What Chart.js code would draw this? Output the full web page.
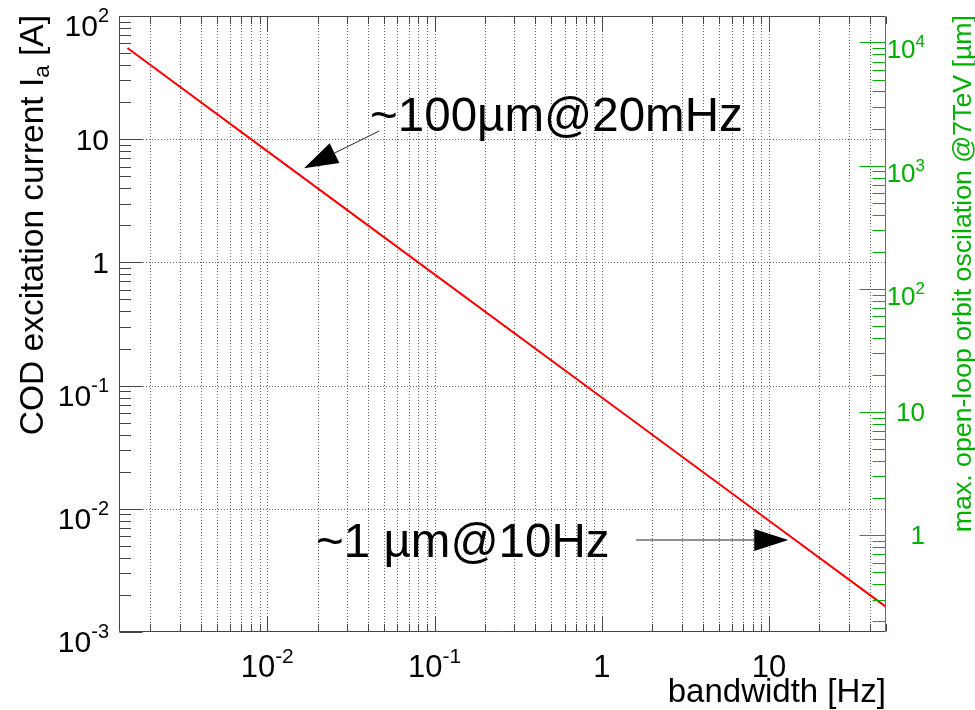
<!DOCTYPE html>
<html>
<head>
<meta charset="utf-8">
<script src="https://cdn.jsdelivr.net/npm/chart.js@4.4.0/dist/chart.umd.min.js"></script>
<style>
html,body{margin:0;padding:0;background:#fff;}
#wrap{width:975px;height:710px;}
</style>
</head>
<body>
<div id="wrap"><canvas id="myChart" width="975" height="710"></canvas></div>
<script>
// COD excitation current vs bandwidth (log-log)
const bandwidth = [0.00146, 0.01, 0.1, 1, 10, 50];
const current = [55, 8.0, 0.80, 0.080, 0.0080, 0.0016];

const xTicks = [0.01, 0.1, 1, 10];
const xTickLabels = ['10^-2', '10^-1', '1', '10'];
const yTicks = [100, 10, 1, 0.1, 0.01, 0.001];
const yTickLabels = ['10^2', '10', '1', '10^-1', '10^-2', '10^-3'];
const y2Ticks = [1, 10, 100, 1000, 10000];
const y2TickLabels = ['1', '10', '10^2', '10^3', '10^4'];

const noteTexts = ['~100µm@20mHz', '~1 µm@10Hz'];
const noteAt = [[0.0412, 11.68], [0.0196, 0.0041]];
const arrowFrom = [[0.0468, 11.68], [1.606, 0.00558]];
const arrowTo = [[0.0166, 5.82], [13.02, 0.00558]];

const FONT = '"Liberation Sans", Arial, Helvetica, sans-serif';
const GREEN = '#00b000';

function line(c, x1, y1, x2, y2) {
  c.beginPath(); c.moveTo(x1, y1); c.lineTo(x2, y2); c.stroke();
}

function logSteps(min, max) {
  const out = [];
  for (let e = Math.floor(Math.log10(min)); e <= Math.ceil(Math.log10(max)); e++) {
    for (let m = 1; m <= 9; m++) {
      const v = m * Math.pow(10, e);
      if (v >= min * 0.999 && v <= max * 1.001) out.push({v: v, major: m === 1});
    }
  }
  return out;
}

// label like '10^-2' -> base + superscript
function drawLabel(c, str, x, y, align, size, expSize, rise) {
  const parts = str.split('^');
  c.font = size + 'px ' + FONT;
  const bw = c.measureText(parts[0]).width;
  let ew = 0;
  if (parts[1]) { c.font = expSize + 'px ' + FONT; ew = c.measureText(parts[1]).width; }
  const total = bw + ew;
  const x0 = align === 'right' ? x - total : align === 'center' ? x - total / 2 : x;
  c.textAlign = 'left';
  c.textBaseline = 'alphabetic';
  c.font = size + 'px ' + FONT;
  c.fillText(parts[0], x0, y);
  if (parts[1]) { c.font = expSize + 'px ' + FONT; c.fillText(parts[1], x0 + bw, y - rise); }
}

function arrow(c, x1, y1, x2, y2) {
  const ang = Math.atan2(y2 - y1, x2 - x1);
  const len = 34, half = 11;
  const bx = x2 - len * Math.cos(ang), by = y2 - len * Math.sin(ang);
  c.strokeStyle = '#222'; c.lineWidth = 1;
  line(c, x1, y1, bx, by);
  c.fillStyle = '#000';
  c.beginPath();
  c.moveTo(x2, y2);
  c.lineTo(bx + half * Math.sin(ang), by - half * Math.cos(ang));
  c.lineTo(bx - half * Math.sin(ang), by + half * Math.cos(ang));
  c.closePath(); c.fill();
}

const rootStyle = {
  id: 'rootStyle',
  beforeDatasetsDraw(chart) {
    const c = chart.ctx, a = chart.chartArea, sx = chart.scales.x, sy = chart.scales.y;
    c.save();
    c.strokeStyle = '#666'; c.lineWidth = 1; c.setLineDash([1, 2]);
    logSteps(sx.min, sx.max).forEach(t => {
      const px = Math.round(sx.getPixelForValue(t.v)) + 0.5;
      if (px <= a.left + 1 || px >= a.right - 1) return;
      line(c, px, a.top, px, a.bottom);
    });
    yTicks.forEach(v => {
      const py = Math.round(sy.getPixelForValue(v)) + 0.5;
      if (py <= a.top + 1 || py >= a.bottom - 1) return;
      line(c, a.left, py, a.right, py);
    });
    c.restore();
  },
  afterDatasetsDraw(chart) {
    const c = chart.ctx, a = chart.chartArea;
    const sx = chart.scales.x, sy = chart.scales.y, sy2 = chart.scales.y2;
    const L = Math.round(a.left) + 0.5, R = Math.round(a.right) - 0.5;
    const T = Math.round(a.top) + 0.5, B = Math.round(a.bottom) - 0.5;
    c.save();
    c.setLineDash([]);
    c.lineWidth = 1;
    // frame
    c.strokeStyle = '#444';
    line(c, L, T, R, T); line(c, L, T, L, B); line(c, L, B, R, B);
    // x ticks bottom + top
    logSteps(sx.min, sx.max).forEach(t => {
      const px = Math.round(sx.getPixelForValue(t.v)) + 0.5;
      const len = t.major ? 15 : 7.5;
      line(c, px, B, px, B - len);
      line(c, px, T, px, T + len);
    });
    // y ticks left
    logSteps(sy.min, sy.max).forEach(t => {
      const py = Math.round(sy.getPixelForValue(t.v)) + 0.5;
      line(c, L, py, L + (t.major ? 23 : 11.5), py);
    });
    // right green axis
    c.strokeStyle = GREEN;
    line(c, R, T, R, B);
    logSteps(sy2.min, sy2.max).forEach(t => {
      const py = Math.round(sy2.getPixelForValue(t.v)) + 0.5;
      line(c, R, py, R - (t.major ? 26 : 13), py);
    });

    // tick labels
    c.fillStyle = '#000';
    xTicks.forEach((v, i) => {
      drawLabel(c, xTickLabels[i], sx.getPixelForValue(v), 677, 'center', 31, 21, 14);
    });
    yTicks.forEach((v, i) => {
      const py = sy.getPixelForValue(v);
      const hasExp = yTickLabels[i].indexOf('^') >= 0;
      drawLabel(c, yTickLabels[i], 109, py + (hasExp ? 20 : 11), 'right', 30, 20, 14);
    });
    c.fillStyle = GREEN;
    y2Ticks.forEach((v, i) => {
      const py = sy2.getPixelForValue(v);
      const hasExp = y2TickLabels[i].indexOf('^') >= 0;
      drawLabel(c, y2TickLabels[i], 925, py + (hasExp ? 16 : 9), 'right', 26, 17, 11);
    });

    // axis titles
    c.fillStyle = '#000';
    c.font = '33px ' + FONT;
    c.textAlign = 'right';
    c.fillText('bandwidth [Hz]', a.right, 702);

    c.save();
    c.translate(43, a.top - 1);
    c.rotate(-Math.PI / 2);
    c.textAlign = 'left';
    const f1 = '33.5px ' + FONT, f2 = '22.5px ' + FONT;
    c.font = f1;
    const w1 = c.measureText('COD excitation current I').width;
    const w3 = c.measureText(' [A]').width;
    c.font = f2;
    const w2 = c.measureText('a').width;
    const x0 = -(w1 + w2 + w3);
    c.font = f1; c.fillText('COD excitation current I', x0, 0);
    c.font = f2; c.fillText('a', x0 + w1, 6);
    c.font = f1; c.fillText(' [A]', x0 + w1 + w2, 0);
    c.restore();

    c.save();
    c.translate(971, a.top - 1);
    c.rotate(-Math.PI / 2);
    c.textAlign = 'right';
    c.fillStyle = GREEN;
    c.font = '26.7px ' + FONT;
    c.fillText('max. open-loop orbit oscilation @7TeV [µm]', 0, 0);
    c.restore();

    // annotations
    c.fillStyle = '#000';
    c.textAlign = 'left';
    c.font = '47.5px ' + FONT;
    noteTexts.forEach((txt, i) => {
      c.fillText(txt, sx.getPixelForValue(noteAt[i][0]), sy.getPixelForValue(noteAt[i][1]));
      arrow(c,
        sx.getPixelForValue(arrowFrom[i][0]), sy.getPixelForValue(arrowFrom[i][1]),
        sx.getPixelForValue(arrowTo[i][0]), sy.getPixelForValue(arrowTo[i][1]));
    });
    c.restore();
  }
};

const ctx = document.getElementById('myChart');
new Chart(ctx, {
  type: 'scatter',
  data: {
    datasets: [{
      label: 'I_a',
      data: bandwidth.map((x, i) => ({x: x, y: current[i]})),
      showLine: true,
      borderColor: '#ff0000',
      borderWidth: 2,
      pointRadius: 0,
      tension: 0
    }]
  },
  options: {
    responsive: false,
    animation: false,
    devicePixelRatio: 1,
    layout: {padding: {left: 119, top: 16, right: 89, bottom: 78}},
    plugins: {legend: {display: false}, tooltip: {enabled: false}},
    scales: {
      x: {type: 'logarithmic', min: 0.0013, max: 50, bounds: 'data', display: false},
      y: {type: 'logarithmic', min: 0.001, max: 100, bounds: 'data', display: false},
      y2: {type: 'logarithmic', position: 'right', min: 0.164, max: 16400, bounds: 'data', display: false}
    }
  },
  plugins: [rootStyle]
});
</script>
</body>
</html>
